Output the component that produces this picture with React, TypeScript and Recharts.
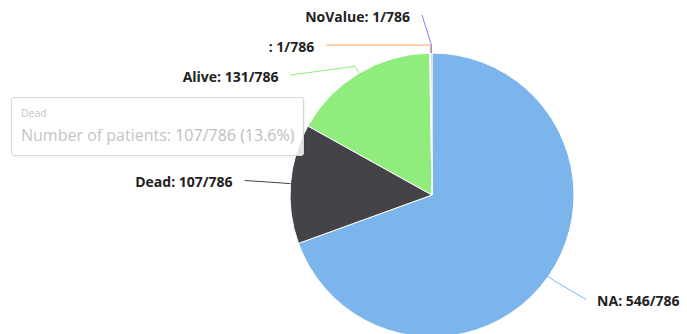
import React from 'react';
import { PieChart, Pie, Cell } from 'recharts';

const categories = ['NA', 'Dead', 'Alive', '', 'NoValue'];
const patientCounts = [546, 107, 131, 1, 1];
const sliceColors = ['#7cb5ec', '#434348', '#90ed7d', '#f7a35c', '#8085e9'];
const tooltipCategory = 'Dead';
const tooltipSeriesName = 'Number of patients';

const total = patientCounts.reduce((a, b) => a + b, 0);
const data = categories.map((name, i) => ({ name, value: patientCounts[i], color: sliceColors[i] }));

const W = 687;
const H = 334;
const CX = 432;
const CY = 195;
const OUTER = 142;
const LABEL_RY = 182;
const LABEL_RX = 178;
const LABEL_PAD = 10;
const MIN_Y = 15;
const SPACING = 30;
const RAD = Math.PI / 180;

type LabelPos = { x: number; y: number; left: boolean };

function computeLayout(): LabelPos[] {
  let acc = 0;
  const items = patientCounts.map((v, i) => {
    const start = 90 - (acc / total) * 360;
    acc += v;
    const end = 90 - (acc / total) * 360;
    const mid = (start + end) / 2;
    const left = Math.cos(mid * RAD) < 0;
    const y = CY - LABEL_RY * Math.sin(mid * RAD);
    return { i, left, y };
  });
  const result: LabelPos[] = new Array(items.length);
  [true, false].forEach((side) => {
    const group = items.filter((it) => it.left === side).sort((a, b) => a.y - b.y);
    let prev = -Infinity;
    group.forEach((it) => {
      const y = Math.max(it.y, prev + SPACING, MIN_Y);
      prev = y;
      const dy = y - CY;
      const dx = Math.sqrt(Math.max(0, LABEL_RX * LABEL_RX - dy * dy)) + LABEL_PAD;
      result[it.i] = { x: side ? CX - dx : CX + dx, y, left: side };
    });
  });
  return result;
}

const layout = computeLayout();

const renderLabel = (props: any) => {
  const { cx, cy, midAngle, outerRadius, index, name, value, fill } = props;
  const pos = layout[index];
  const ex = cx + outerRadius * Math.cos(-midAngle * RAD);
  const ey = cy + outerRadius * Math.sin(-midAngle * RAD);
  const bx = cx + (outerRadius + 8) * Math.cos(-midAngle * RAD);
  const by = cy + (outerRadius + 8) * Math.sin(-midAngle * RAD);
  const tx = pos.left ? pos.x - 12 : pos.x + 11;
  return (
    <g key={`lbl-${index}`}>
      <polyline
        points={`${ex},${ey} ${bx},${by} ${pos.x},${pos.y}`}
        fill="none"
        stroke={fill}
        strokeWidth={1}
      />
      <text
        x={tx}
        y={pos.y + 3}
        textAnchor={pos.left ? 'end' : 'start'}
        dominantBaseline="middle"
        fontFamily="'Open Sans', 'DejaVu Sans', sans-serif"
        fontSize={14}
        fontWeight="bold"
        fill="#222"
      >
        {`${name}: ${value}/${total}`}
      </text>
    </g>
  );
};

export default function App() {
  const ti = categories.indexOf(tooltipCategory);
  const tv = patientCounts[ti];
  const pct = ((tv / total) * 100).toFixed(1);
  return (
    <div style={{ position: 'absolute', left: 0, top: 0, width: W, height: H, background: '#fff', overflow: 'hidden' }}>
      <PieChart width={W} height={H} margin={{ top: 0, right: 0, bottom: 0, left: 0 }}>
        <Pie
          data={data}
          dataKey="value"
          nameKey="name"
          cx={CX}
          cy={CY}
          outerRadius={OUTER}
          startAngle={90}
          endAngle={-270}
          stroke="#fff"
          strokeWidth={1}
          label={renderLabel}
          labelLine={false}
          isAnimationActive={false}
        >
          {data.map((d, i) => (
            <Cell key={i} fill={d.color} />
          ))}
        </Pie>
      </PieChart>
      <div
        style={{
          position: 'absolute',
          left: 11,
          top: 97,
          width: 293,
          height: 59,
          border: '1px solid #d8d8d8',
          borderRadius: 3,
          background: 'rgba(255,255,255,0.85)',
          boxShadow: '1px 1px 2px rgba(0,0,0,0.06)',
          fontFamily: "'Open Sans', 'DejaVu Sans', sans-serif",
          color: '#c4c4c4',
          boxSizing: 'border-box',
        }}
      >
        <div style={{ position: 'absolute', left: 9, top: 8, fontSize: 10.5 }}>{tooltipCategory}</div>
        <div style={{ position: 'absolute', left: 9, top: 26, fontSize: 16, whiteSpace: 'nowrap' }}>
          {`${tooltipSeriesName}: `}
          <span style={{ color: '#bdbdbd' }}>{`${tv}/${total} (${pct}%)`}</span>
        </div>
      </div>
    </div>
  );
}
